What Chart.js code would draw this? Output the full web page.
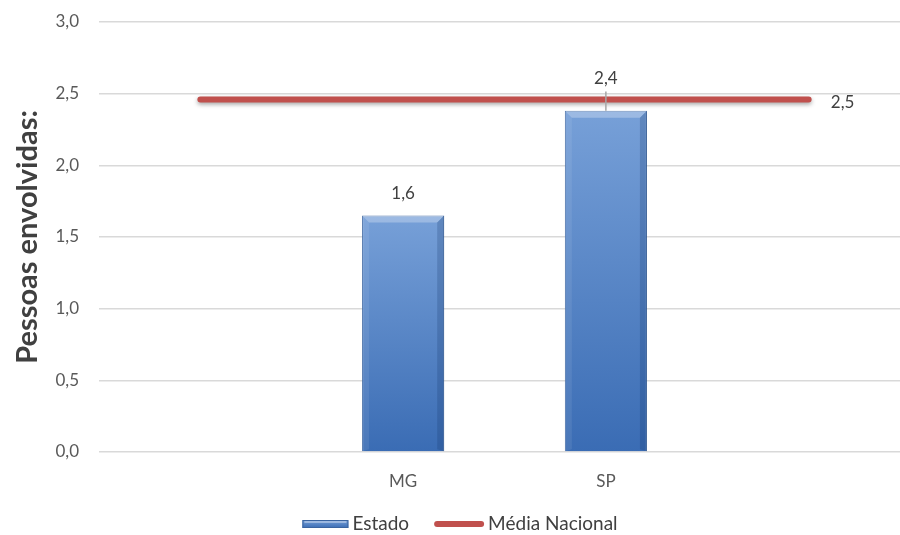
<!DOCTYPE html>
<html><head><meta charset="utf-8">
<script src="https://cdn.jsdelivr.net/npm/chart.js@4/dist/chart.umd.min.js"></script>
<style>
html,body{margin:0;padding:0;overflow:hidden;background:#fff;width:900px;height:535px}
#wrap{width:910px;height:535px}
</style>
</head><body><div id="wrap"><canvas id="c" width="910" height="535"></canvas></div>
<script>
const categories = ["", "MG", "SP", ""];
const estadoValues = [null, 1.65, 2.38, null];
const mediaNacional = [2.46, 2.46, 2.46, 2.46];
const yTickValues = [0, 0.5, 1, 1.5, 2, 2.5, 3];
const seriesNames = ["Estado", "Média Nacional"];
const axisTitle = "Pessoas envolvidas:";

const FONT = "Lato, 'Open Sans', sans-serif";
const fmt = v => v.toFixed(1).replace('.', ',');

function vGrad(c, top, bottom) {
  const g = c.createLinearGradient(0, top, 0, bottom);
  g.addColorStop(0, '#77a0d8');
  g.addColorStop(1, '#3a6cb4');
  return g;
}

function barGradient(ctx) {
  const chart = ctx.chart;
  if (!chart.chartArea || ctx.raw == null) return '#4f81bd';
  const y = chart.scales.y;
  return vGrad(chart.ctx, y.getPixelForValue(ctx.raw), y.getPixelForValue(0));
}

const decor = {
  id: 'decor',
  beforeDatasetDraw(chart, args) {
    if (args.index === 1) {
      const c = chart.ctx;
      c.save();
      c.shadowColor = 'rgba(0,0,0,0.35)';
      c.shadowBlur = 4;
      c.shadowOffsetY = 2;
    }
  },
  afterDatasetDraw(chart, args) {
    if (args.index === 1) chart.ctx.restore();
    if (args.index === 0) {
      const c = chart.ctx;
      chart.getDatasetMeta(0).data.forEach((bar, i) => {
        if (estadoValues[i] == null) return;
        const w = bar.width, x0 = bar.x - w / 2, x1 = bar.x + w / 2, t = bar.y, b = bar.base, d = 7;
        c.save();
        c.fillStyle = 'rgba(255,255,255,0.28)';
        c.beginPath(); c.moveTo(x0, t); c.lineTo(x1, t); c.lineTo(x1 - d, t + d); c.lineTo(x0 + d, t + d); c.closePath(); c.fill();
        c.fillStyle = 'rgba(20,50,100,0.22)';
        c.beginPath(); c.moveTo(x1, t); c.lineTo(x1, b); c.lineTo(x1 - d, b - 2); c.lineTo(x1 - d, t + d); c.closePath(); c.fill();
        c.fillStyle = 'rgba(255,255,255,0.08)';
        c.beginPath(); c.moveTo(x0, t); c.lineTo(x0 + d, t + d); c.lineTo(x0 + d, b - 2); c.lineTo(x0, b); c.closePath(); c.fill();
        c.restore();
      });
    }
  },
  afterDatasetsDraw(chart) {
    const c = chart.ctx;
    c.save();
    c.font = "17px " + FONT;
    c.fillStyle = '#404040';
    c.textAlign = 'center';
    c.textBaseline = 'middle';
    const lineMeta = chart.getDatasetMeta(1).data;
    const last = lineMeta[lineMeta.length - 1];
    const lineY = last.y;
    chart.getDatasetMeta(0).data.forEach((bar, i) => {
      const v = estadoValues[i];
      if (v == null) return;
      let ly = bar.y - 22;
      if (Math.abs(ly - lineY) < 16) {
        ly = lineY - 21;
        c.strokeStyle = '#a6a6a6'; c.lineWidth = 1.5;
        c.beginPath(); c.moveTo(bar.x, ly + 13); c.lineTo(bar.x, bar.y); c.stroke();
      }
      c.fillText(fmt(v), bar.x, ly);
    });
    c.fillText(fmt(mediaNacional[mediaNacional.length - 1]), last.x + 34, last.y + 3);
    c.restore();
  },
  afterDraw(chart) {
    // legend
    const c = chart.ctx;
    c.save();
    c.font = "19px " + FONT;
    c.textBaseline = 'middle';
    c.textAlign = 'left';
    const y = 524;
    const w1 = c.measureText(seriesNames[0]).width, w2 = c.measureText(seriesNames[1]).width;
    const total = 46 + 4 + w1 + 25 + 50 + 4 + w2;
    let x = 460 - total / 2;
    c.fillStyle = vGrad(c, y - 4, y + 4);
    c.fillRect(x, y - 4, 46, 8);
    c.strokeStyle = '#3a64a0'; c.lineWidth = 1;
    c.strokeRect(x + 0.5, y - 3.5, 45, 7);
    c.fillStyle = 'rgba(255,255,255,0.35)';
    c.fillRect(x + 2, y - 3, 42, 2);
    x += 50;
    c.fillStyle = '#404040';
    c.fillText(seriesNames[0], x, y);
    x += w1 + 25;
    c.strokeStyle = '#c0504d'; c.lineWidth = 6; c.lineCap = 'round';
    c.beginPath(); c.moveTo(x + 3, y); c.lineTo(x + 47, y); c.stroke();
    x += 54;
    c.fillText(seriesNames[1], x, y);
    c.restore();
  }
};

new Chart(document.getElementById('c'), {
  data: {
    labels: categories,
    datasets: [
      {
        type: 'bar', label: seriesNames[0], data: estadoValues, order: 2,
        backgroundColor: barGradient, borderColor: '#3a64a0', borderWidth: 1,
        barPercentage: 0.81, categoryPercentage: 0.5
      },
      {
        type: 'line', label: seriesNames[1], data: mediaNacional, order: 1,
        borderColor: '#c0504d', backgroundColor: '#c0504d', borderWidth: 6,
        borderCapStyle: 'round', pointRadius: 0, pointHoverRadius: 0, fill: false
      }
    ]
  },
  options: {
    responsive: false, animation: false,
    layout: { padding: { top: 22, right: 0, left: 0, bottom: 33 } },
    plugins: {
      tooltip: { enabled: false },
      legend: { display: false }
    },
    scales: {
      x: {
        offset: true,
        afterFit: s => { s.height = 50; s.paddingLeft = 0; s.paddingRight = 0; },
        grid: { display: false, drawTicks: false },
        border: { display: false },
        ticks: { padding: 19, color: '#595959', font: { family: FONT, size: 17 } }
      },
      y: {
        min: 0, max: 3,
        afterBuildTicks: s => { s.ticks = yTickValues.map(v => ({ value: v })); },
        afterFit: s => { s.width = 99; s.paddingTop = 0; s.paddingBottom = 0; },
        grid: { color: '#d9d9d9', lineWidth: 1.5, drawTicks: false },
        border: { display: false },
        ticks: { padding: 20, color: '#595959', font: { family: FONT, size: 17 }, callback: v => fmt(v) },
        title: {
          display: true, text: axisTitle, color: '#404040',
          font: { family: FONT, size: 29, weight: 'bold' },
          padding: { top: 10, bottom: 0 }
        }
      }
    }
  },
  plugins: [decor]
});
</script>
</body></html>
